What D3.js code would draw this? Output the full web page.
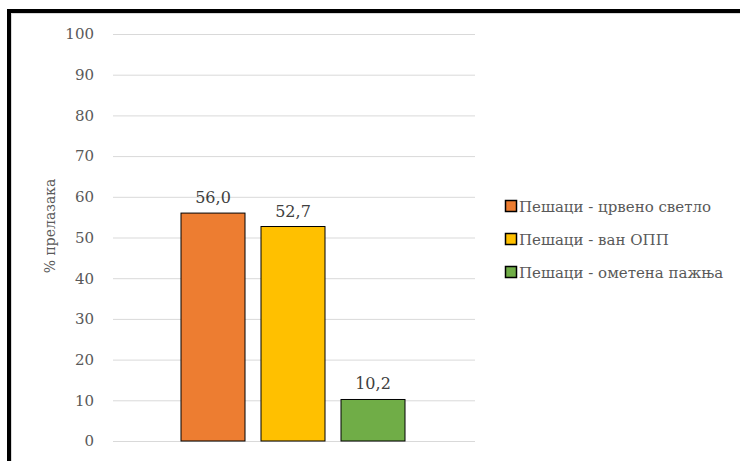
<!DOCTYPE html>
<html><head><meta charset="utf-8">
<script src="https://cdn.jsdelivr.net/npm/d3@7"></script>
<style>html,body{margin:0;padding:0;background:#fff;}svg{display:block;}</style>
</head><body>
<svg id="c" width="740" height="461"></svg>
<script>
const seriesNames = ["Пешаци - црвено светло", "Пешаци - ван ОПП", "Пешаци - ометена пажња"];
const seriesValues = [56.0, 52.7, 10.2];
const seriesColors = ["#ED7D31", "#FFC000", "#70AD47"];
const yTicks = [0, 10, 20, 30, 40, 50, 60, 70, 80, 90, 100];
const yTitle = "% прелазака";

(function () {
const svg = d3.select("#c");
const font = "'DejaVu Serif', serif";

// outer frame
svg.append("rect").attr("x", 9).attr("y", 11).attr("width", 900).attr("height", 600)
  .attr("fill", "none").attr("stroke", "#000").attr("stroke-width", 4);
svg.append("rect").attr("x", 11.5).attr("y", 13.5).attr("width", 900).attr("height", 600)
  .attr("fill", "none").attr("stroke", "#d9d9d9").attr("stroke-width", 1);

const pLeft = 113, pRight = 475, pTop = 34, pBottom = 441;
const y = d3.scaleLinear().domain([0, 100]).range([pBottom, pTop]);
const x = d3.scaleBand().domain(seriesNames).range([173, 413]).paddingInner(0.2).paddingOuter(0.1);

// gridlines via axis
const ax = d3.axisLeft(y).tickValues(yTicks).tickSize(-(pRight - pLeft)).tickPadding(19);
const g = svg.append("g").attr("transform", `translate(${pLeft},0)`).call(ax);
g.select(".domain").remove();
g.selectAll(".tick line").attr("stroke", "#d9d9d9").attr("stroke-width", 1);
g.selectAll(".tick text").attr("fill", "#595959").style("font-family", font).style("font-size", "15px");

// y title
svg.append("text").attr("transform", "translate(55,226) rotate(-90)")
  .attr("text-anchor", "middle").attr("fill", "#595959")
  .style("font-family", font).style("font-size", "14px").text(yTitle);

// bars
svg.selectAll("rect.bar").data(seriesValues).join("rect").attr("class", "bar")
  .attr("x", (d, i) => x(seriesNames[i]))
  .attr("width", x.bandwidth())
  .attr("y", d => y(d))
  .attr("height", d => y(0) - y(d))
  .attr("fill", (d, i) => seriesColors[i])
  .attr("stroke", "#000").attr("stroke-width", 1);

// labels
svg.selectAll("text.lbl").data(seriesValues).join("text").attr("class", "lbl")
  .attr("x", (d, i) => x(seriesNames[i]) + x.bandwidth() / 2)
  .attr("y", d => y(d) - 10)
  .attr("text-anchor", "middle").attr("fill", "#404040")
  .style("font-family", font).style("font-size", "16px")
  .text(d => d3.format(".1f")(d).replace(".", ","));

// legend
const ly = d3.scalePoint().domain(seriesNames).range([206, 272]);
const lg = svg.selectAll("g.leg").data(seriesNames).join("g").attr("class", "leg")
  .attr("transform", d => `translate(505,${ly(d)})`);
lg.append("rect").attr("x", 0.5).attr("y", -5.5).attr("width", 11).attr("height", 11)
  .attr("fill", (d, i) => seriesColors[i]).attr("stroke", "#000").attr("stroke-width", 1.5);
lg.append("text").attr("x", 14).attr("y", 5.5).attr("fill", "#595959")
  .style("font-family", font).style("font-size", "15px").text(d => d);
})();
</script>
</body></html>
